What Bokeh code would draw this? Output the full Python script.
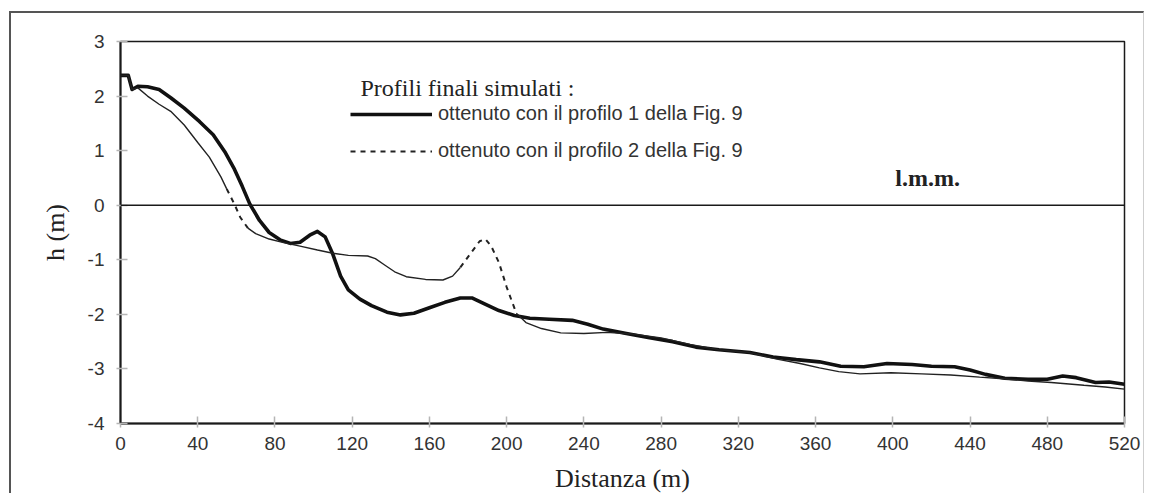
from bokeh.plotting import figure
from bokeh.models import Range1d, FixedTicker, Span, Label, Legend, LegendItem
from bokeh.embed import file_html
from bokeh.resources import INLINE

# ---- data ----
x1 = [0, 4, 6, 9, 14, 20, 26, 33, 41, 48, 54, 59, 63, 67, 72, 77, 83, 88, 93, 98,
      102, 106, 110, 114, 118, 124, 130, 138, 145, 152, 160, 168, 176, 182, 188, 196,
      204, 212, 222, 234, 242, 250, 262, 274, 286, 298, 310, 326, 338, 350, 362, 373,
      385, 397, 410, 420, 432, 440, 448, 458, 470, 480, 488, 495, 505, 512, 520]
y1 = [2.38, 2.38, 2.12, 2.18, 2.17, 2.12, 1.97, 1.78, 1.53, 1.29, 0.98, 0.66, 0.35, 0.02,
      -0.28, -0.50, -0.64, -0.70, -0.68, -0.55, -0.48, -0.58, -0.90, -1.30, -1.55, -1.72,
      -1.84, -1.96, -2.01, -1.98, -1.88, -1.78, -1.70, -1.70, -1.80, -1.93, -2.02, -2.07,
      -2.09, -2.11, -2.18, -2.27, -2.35, -2.43, -2.50, -2.60, -2.65, -2.70, -2.78, -2.83,
      -2.87, -2.95, -2.96, -2.90, -2.92, -2.95, -2.96, -3.02, -3.10, -3.17, -3.19, -3.19,
      -3.13, -3.16, -3.25, -3.24, -3.28]

x2 = [0, 4, 6, 9, 14, 20, 26, 33, 40, 46, 52, 55, 59, 62, 66, 70, 77, 85, 93, 102,
      110, 118, 128, 132, 137, 142, 148, 158, 167, 172, 176, 182, 186, 189, 192, 196, 200,
      205, 210, 218, 228, 240, 252, 265, 280, 295, 310, 326, 340, 352, 362, 372, 383,
      399, 415, 430, 445, 457, 470, 482, 499, 510, 520]
y2 = [2.38, 2.38, 2.12, 2.15, 2.00, 1.85, 1.72, 1.47, 1.15, 0.88, 0.52, 0.30, 0.02, -0.22,
      -0.42, -0.52, -0.62, -0.69, -0.75, -0.82, -0.88, -0.92, -0.93, -0.98, -1.10, -1.22,
      -1.31, -1.36, -1.37, -1.30, -1.14, -0.85, -0.66, -0.62, -0.75, -1.05, -1.50, -1.98,
      -2.15, -2.26, -2.34, -2.35, -2.33, -2.36, -2.43, -2.55, -2.65, -2.70, -2.82, -2.90,
      -2.98, -3.05, -3.09, -3.07, -3.09, -3.11, -3.15, -3.18, -3.22, -3.25, -3.30, -3.33,
      -3.37]

# parts of profile 2 that are drawn dashed in the picture
dashed_ranges = [(55, 66), (176, 205)]

x_ticks = list(range(0, 521, 40))
y_ticks = [-4, -3, -2, -1, 0, 1, 2, 3]

label1 = "ottenuto con il profilo 1 della Fig. 9"
label2 = "ottenuto con il profilo 2 della Fig. 9"
title_text = "Profili finali simulati :"
lmm_text = "l.m.m."
x_label = "Distanza (m)"
y_label = "h (m)"

INK = "#1a1a1a"

p = figure(width=1135, height=482, output_backend="svg", toolbar_location=None,
           x_range=Range1d(0, 520), y_range=Range1d(-4, 3),
           min_border_left=109, min_border_right=22, min_border_top=28, min_border_bottom=67)
p.styles = {"margin-left": "9px", "margin-top": "11px",
            "border-left": "2px solid #555", "border-top": "2px solid #555",
            "border-right": "1px solid #cfcfcf"}
p.background_fill_color = "white"
p.border_fill_color = "white"
p.xgrid.visible = False
p.ygrid.visible = False
p.outline_line_color = INK
p.outline_line_width = 1.5

for ax, ticks in ((p.xaxis, x_ticks), (p.yaxis, y_ticks)):
    ax.ticker = FixedTicker(ticks=ticks)
    ax.major_label_overrides = {t: str(t) for t in ticks}
    ax.axis_line_color = INK
    ax.axis_line_width = 2
    ax.major_tick_line_color = "#b5b5b5"
    ax.major_tick_line_width = 1.5
    ax.major_tick_in = 7
    ax.major_tick_out = 4
    ax.minor_tick_line_color = None
    ax.major_label_text_font = "Liberation Sans"
    ax.major_label_text_font_size = "19px"
    ax.major_label_text_color = "#333333"
    ax.axis_label_text_font = "Liberation Serif"
    ax.axis_label_text_font_size = "26px"
    ax.axis_label_text_font_style = "normal"
    ax.axis_label_text_color = "#222222"

p.xaxis.axis_label = x_label
p.yaxis.axis_label = y_label
p.xaxis.major_label_standoff = 9
p.yaxis.major_label_standoff = 12
p.xaxis.axis_label_standoff = 11
p.yaxis.axis_label_standoff = 15

# zero line (l.m.m.)
p.add_layout(Span(location=0, dimension="width", line_color=INK, line_width=1.6))

# profile 1 (thick)
r1 = p.line(x1, y1, line_color="#111111", line_width=3.6, line_join="round")

# profile 2 (thin, dashed in some stretches)
def in_dash(a, b):
    for lo, hi in dashed_ranges:
        if a >= lo and b <= hi:
            return True
    return False

segs = []
cur = [[x2[0]], [y2[0]], None]
for i in range(1, len(x2)):
    d = in_dash(x2[i - 1], x2[i])
    if cur[2] is None:
        cur[2] = d
    if d != cur[2]:
        segs.append(cur)
        cur = [[x2[i - 1]], [y2[i - 1]], d]
    cur[0].append(x2[i])
    cur[1].append(y2[i])
segs.append(cur)

r_dash = None
for sx, sy, d in segs:
    if d:
        r = p.line(sx, sy, line_color="#222222", line_width=2, line_dash="5 5")
        if r_dash is None:
            r_dash = r
    else:
        p.line(sx, sy, line_color="#222222", line_width=1.4)

leg = Legend(items=[LegendItem(label=label1, renderers=[r1]),
                    LegendItem(label=label2, renderers=[r_dash])],
             location=(230, 261), padding=0, margin=0, spacing=14,
             glyph_width=82, glyph_height=20, label_height=20, label_standoff=6,
             label_text_font="Liberation Sans", label_text_font_size="20px",
             label_text_color="#333333", background_fill_alpha=0, border_line_alpha=0)
p.add_layout(leg)

p.add_layout(Label(x=124.3, y=2.15, text=title_text, text_baseline="middle",
                   text_font="Liberation Serif", text_font_size="24px", text_color="#222222"))
p.add_layout(Label(x=418, y=0.5, text=lmm_text, text_baseline="middle", text_align="center",
                   text_font="Liberation Serif", text_font_size="24px",
                   text_font_style="bold", text_color="#222222"))

open("out.html", "w").write(file_html(p, INLINE))
